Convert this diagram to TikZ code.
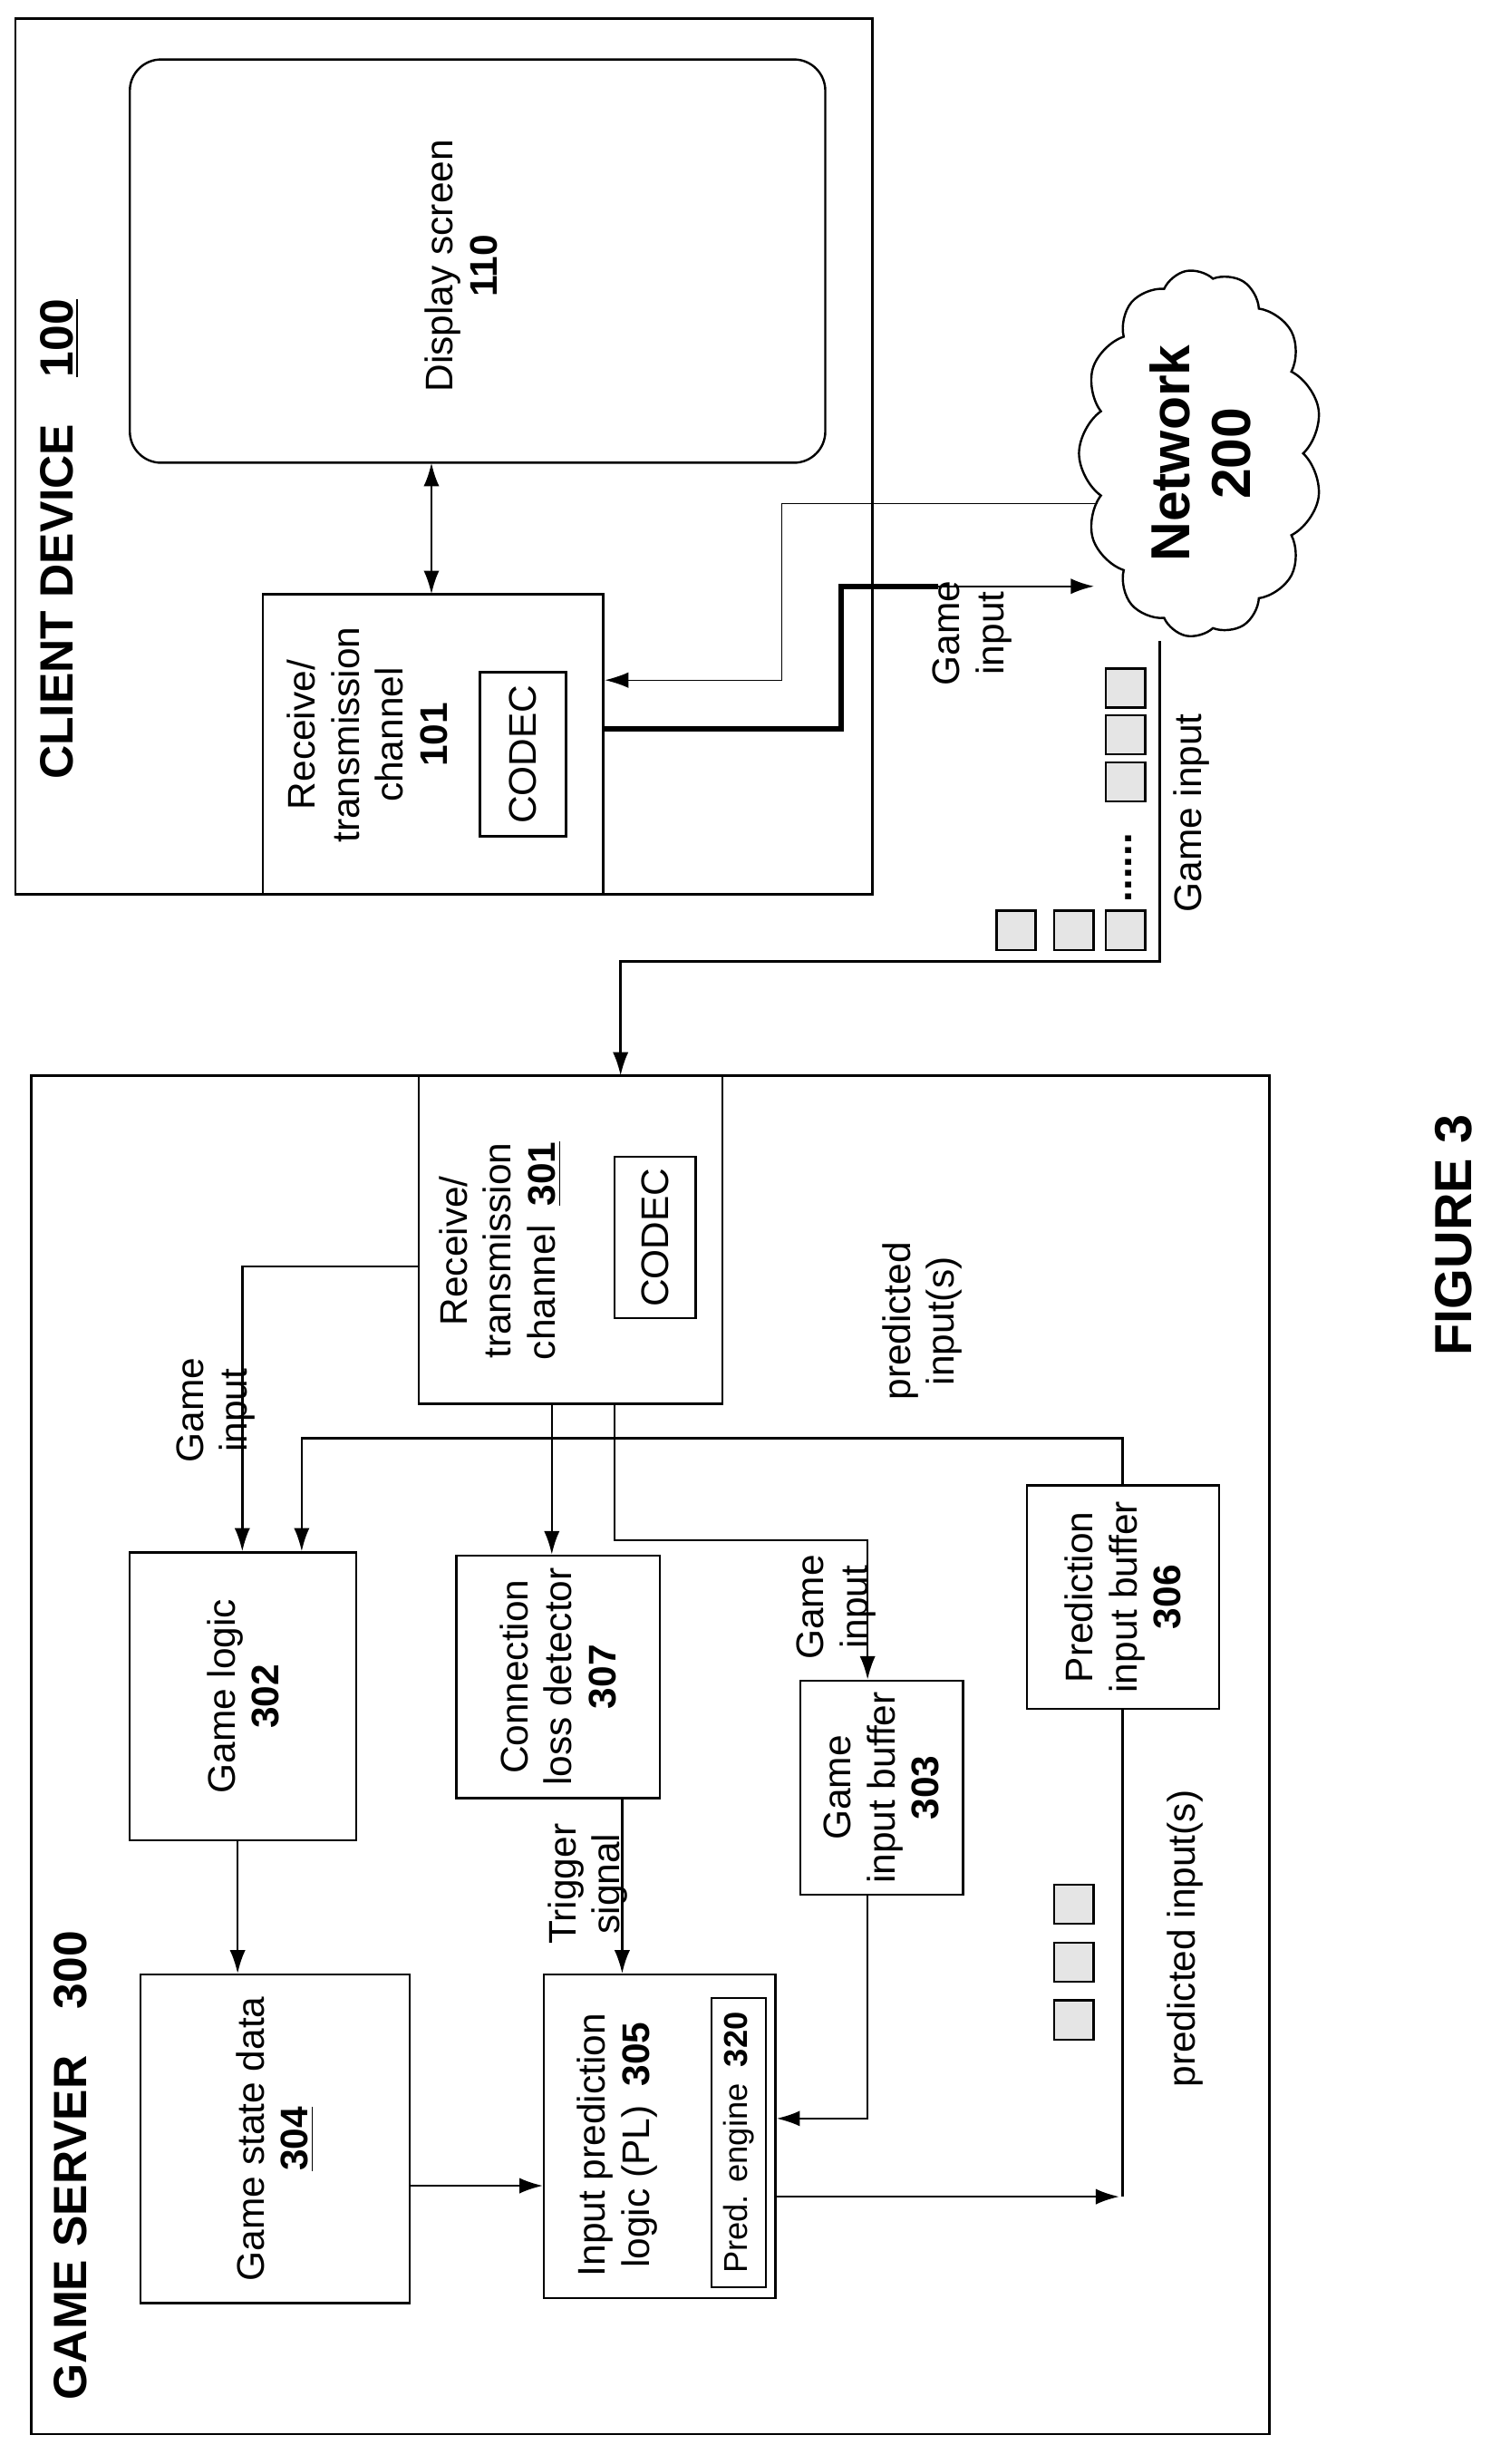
\documentclass[tikz,border=0pt]{standalone}
\usepackage{fontspec}
\setmainfont{Liberation Sans}
\usetikzlibrary{arrows.meta,shapes.symbols}

\tikzset{
  box/.style={draw, line width=0.8pt, rotate=90, inner sep=0pt},
  lbl/.style={rotate=90, align=center, font=\fontsize{14}{16}\selectfont},
  pkt/.style={draw, fill=gray!20, minimum size=0.5cm, inner sep=0pt},
  arr/.style={-{Latex[length=0.3cm,width=0.2cm]}, line width=0.8pt},
}

\begin{document}
\begin{tikzpicture}[x=0.02cm, y=-0.02cm, line width=0.8pt]
	\useasboundingbox (0,0) rectangle (960,1576);
	% client side
	\draw (10,12) rectangle (558,572);
	\node[lbl, font=\fontsize{17}{19}\selectfont\bfseries] (cdt) at (38,345) {CLIENT DEVICE\quad\underline{100}};
	\node[box, rounded corners=0.4cm, minimum width=5.16cm, minimum height=8.9cm] (disp) at (305.5,167) {};
	\node[lbl] (dispt) at (295,170) {Display screen\\\textbf{110}};
	\node[box, minimum width=3.84cm, minimum height=4.36cm] (ch101) at (277,476) {};
	\node[lbl] (ch101t) at (235,470) {Receive/\\transmission\\channel\\\textbf{101}};
	\node[box, minimum width=2.1cm, minimum height=1.1cm] (codec1) at (334.5,482.5) {};
	\node[lbl] at (codec1) {CODEC};
	\draw[{Latex[length=0.3cm,width=0.2cm]}-{Latex[length=0.3cm,width=0.2cm]}] (276,296) -- (276,380);
	% network
	\node[draw, cloud, cloud puffs=13, cloud puff arc=110, aspect=1.6, rotate=90,
	  minimum width=4.7cm, minimum height=2.7cm, align=center,
	  font=\fontsize{20}{22}\selectfont\bfseries] (net) at (768,290) {Network\\200};
	\coordinate (netin) at (700,375);
	\coordinate (netout) at (702,322);
	\coordinate (netbot) at (742,410);
	\draw[arr, thin] (netout) -- (500,322) -- (500,435) -- (387,435);
	\draw[line width=2pt] (387,466) -- (538,466) -- (538,375) -- (600,375);
	\draw[arr] (600,375) -- (netin);
	\node[lbl] (gin1) at (622,405) {Game\\input};
	\foreach \y in {440,470,500} \node[pkt] at (720,\y) {};
	\node[lbl, font=\fontsize{15}{17}\selectfont\bfseries] at (722,555) {......};
	\foreach \x in {650,687,720} \node[pkt] at (\x,595) {};
	\node[lbl] (gin2) at (762,520) {Game input};
	% server side
	\draw (20,688) rectangle (812,1557);
	\node[lbl, font=\fontsize{17}{19}\selectfont\bfseries] (gst) at (45,1385) {GAME SERVER\quad 300};
	\node[box, minimum width=4.2cm, minimum height=3.88cm] (ch301) at (365,793) {};
	\node[lbl] (ch301t) at (320,800) {Receive/\\transmission\\channel\enspace\underline{\textbf{301}}};
	\node[box, minimum width=2.06cm, minimum height=1.04cm] (codec2) at (419,791.5) {};
	\node[lbl] at (codec2) {CODEC};
	\draw[arr] (netbot) -- (742,615) -- (397,615) -- (397,688);
	\node[box, minimum width=3.68cm, minimum height=2.9cm] (gl302) at (155.5,1085) {};
	\node[lbl] at (gl302) {Game logic\\\textbf{302}};
	\node[box, minimum width=3.1cm, minimum height=2.6cm] (cl307) at (357,1072.5) {};
	\node[lbl] at (cl307) {Connection\\loss detector\\\textbf{307}};
	\node[box, minimum width=2.74cm, minimum height=2.08cm] (gib303) at (564,1143.5) {};
	\node[lbl] at (gib303) {Game\\input buffer\\\textbf{303}};
	\node[box, minimum width=2.86cm, minimum height=2.46cm] (pib306) at (718.5,1021.5) {};
	\node[lbl] at (pib306) {Prediction\\input buffer\\\textbf{306}};
	\node[box, minimum width=4.2cm, minimum height=3.44cm] (gsd304) at (176,1368) {};
	\node[lbl] at (gsd304) {Game state data\\\underline{\textbf{304}}};
	\node[box, minimum width=4.14cm, minimum height=2.96cm] (ipl305) at (422,1366.5) {};
	\node[lbl] at (395,1372) {Input prediction\\logic (PL)\enspace\textbf{305}};
	\node[box, minimum width=3.7cm, minimum height=0.7cm] (pe320) at (472.5,1370.5) {};
	\node[lbl, font=\fontsize{12}{14}\selectfont] at (pe320) {Pred. engine\enspace\textbf{320}};
	% connectors
	\draw[arr] (ch301.north |- 0,810) -- (155,810) -- (gl302.east -| 155,0);
	\node[lbl] at (138,902) {Game\\input};
	\draw[arr] (pib306.east -| 718,0) -- (718,920) -- (193,920) -- (gl302.east -| 193,0);
	\node[lbl] at (590,845) {predicted\\input(s)};
	\draw[arr] (ch301.west -| 353,0) -- (cl307.east -| 353,0);
	\draw[arr] (ch301.west -| 393,0) -- (393,985) -- (555,985) -- (gib303.east -| 555,0);
	\node[lbl] at (535,1028) {Game\\input};
	\draw[arr] (gib303.west -| 555,0) -- (555,1355) -- (ipl305.south |- 0,1355);
	\draw[arr] (cl307.west -| 398,0) -- (ipl305.east -| 398,0);
	\node[lbl] at (376,1205) {Trigger\\signal};
	\draw[arr] (gl302.west -| 152,0) -- (gsd304.east -| 152,0);
	\draw[arr] (gsd304.south |- 0,1398) -- (ipl305.north |- 0,1398);
	\draw (pib306.west -| 718,0) -- (718,1405);
	\draw[arr] (ipl305.south |- 0,1405) -- (716,1405);
	\foreach \y in {1218,1255,1292} \node[pkt] at (687,\y) {};
	\node[lbl] at (758,1240) {predicted input(s)};
	\node[lbl, font=\fontsize{19}{21}\selectfont\bfseries] (fig) at (930,790) {FIGURE 3};
\end{tikzpicture}
\end{document}
